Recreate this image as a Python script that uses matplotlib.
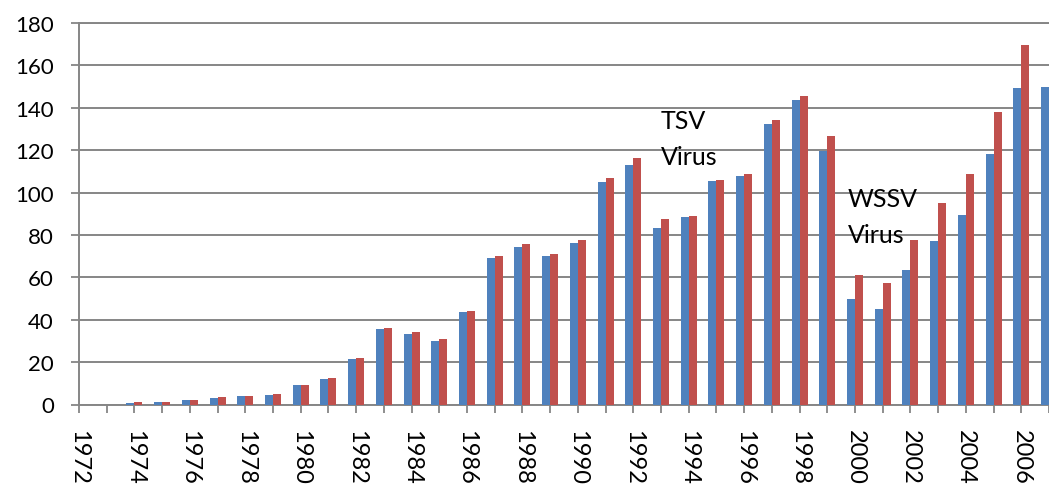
import matplotlib.pyplot as plt
import numpy as np

plt.rcParams['font.family'] = ['Lato', 'DejaVu Sans']

# yearly values
years = list(range(1972, 2008))
blue_vals = [0, 0, 0.8, 1.4, 1.9, 3.3, 3.8, 4.7, 9.1, 12.1,
             21.4, 35.5, 33.3, 30.0, 43.6, 69.2, 74.4, 70.0, 76.3, 105.0,
             113.1, 83.3, 88.5, 105.5, 107.9, 132.5, 143.9, 119.7, 49.8, 45.1,
             63.4, 77.2, 89.5, 118.2, 149.2, 149.8]
red_vals = [0, 0, 1.0, 1.4, 2.0, 3.5, 4.1, 5.0, 9.4, 12.6,
            22.0, 36.2, 34.3, 30.8, 44.3, 70.1, 75.6, 71.1, 77.7, 106.9,
            116.5, 87.6, 89.0, 106.1, 108.6, 134.3, 145.6, 126.6, 61.2, 57.4,
            77.5, 95.1, 108.6, 138.2, 169.5, 172.0]
y_ticks = [0, 20, 40, 60, 80, 100, 120, 140, 160, 180]
labels = [str(y) if (y - 1972) % 2 == 0 else '' for y in years]

grey = '#868686'

fig = plt.figure(figsize=(10.49, 4.85), dpi=100)
ax = fig.add_axes([79 / 1049, 79.5 / 485, 970 / 1049, 381.5 / 485])

x = np.array(years)
w = 0.287
ax.bar(x - w / 2, blue_vals, width=w, color='#4F81BD', zorder=3)
ax.bar(x + w / 2, red_vals, width=w, color='#C0504D', zorder=3)

ax.set_xlim(1972, 1972 + 970 / 27.85)
ax.set_ylim(0, 180)
ax.set_yticks(y_ticks)
ax.set_xticks(years)
ax.set_xticklabels(labels, rotation=-90, fontsize=17)
ax.tick_params(axis='y', labelsize=16, length=6, width=1.3, color=grey, pad=12)
ax.tick_params(axis='x', length=6, width=1.3, color=grey, pad=12)

ax.yaxis.grid(True, color=grey, linewidth=1.4, zorder=0)
ax.set_axisbelow(True)
for side in ['left', 'bottom', 'top']:
    ax.spines[side].set_color(grey)
    ax.spines[side].set_linewidth(1.4)
ax.spines['right'].set_visible(False)

# annotations (baseline of the last line)
ax.text(1992.98, 113.5, 'TSV\nVirus', fontsize=18, va='baseline', ha='left', linespacing=1.7)
ax.text(1999.74, 76.5, 'WSSV\nVirus', fontsize=18, va='baseline', ha='left', linespacing=1.7)

fig.savefig('out.png', dpi=100)
